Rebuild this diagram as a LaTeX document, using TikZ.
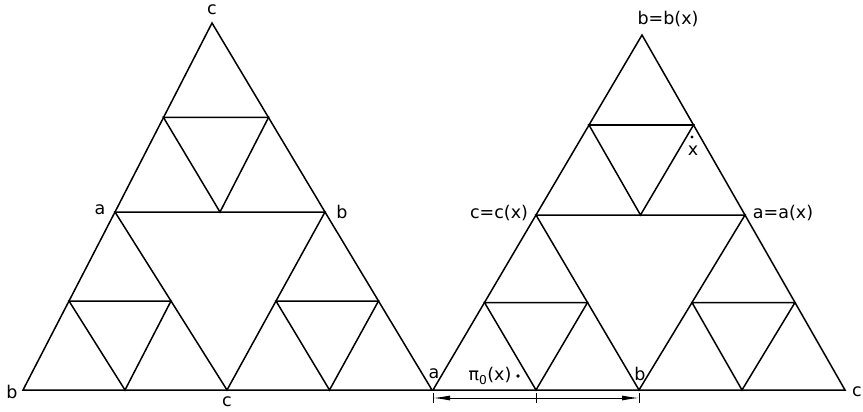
\documentclass[tikz,border=0pt]{standalone}
\usepackage{fontspec}
\setmainfont{DejaVu Sans}
\usetikzlibrary{arrows.meta,calc}
\begin{document}
\begin{tikzpicture}[x=1pt,y=-1pt,
  edge/.style={line width=1.5pt, line join=miter},
  dimline/.style={line width=1pt},
  lbl/.style={font=\fontsize{17.5}{17.5}\selectfont, inner sep=0pt}]
\useasboundingbox (0,0) rectangle (863,412);
\newcommand\subtri[3]{\draw[edge] ($(#1)!0.5!(#2)$) -- ($(#2)!0.5!(#3)$) -- ($(#3)!0.5!(#1)$) -- cycle;}
% ---------- left triangle
\coordinate (LB) at (23,390);
\coordinate (LT) at (212,23);
\coordinate (LR) at (432,390);
\coordinate (La) at (115,212);
\coordinate (Lb) at (325,212);
\coordinate (Lc) at (227,390);
\draw[edge] (LB) -- (La) -- (LT) -- (Lb) -- (LR) -- (Lc) -- cycle;
\draw[edge] (La) -- (Lb) -- (Lc) -- cycle;
\subtri{LT}{La}{Lb}
\subtri{LB}{La}{Lc}
\subtri{Lc}{Lb}{LR}
% ---------- right triangle
\coordinate (RL) at (433,390);
\coordinate (RT) at (642,35);
\coordinate (RR) at (845,390);
\coordinate (Rc) at (536,215);
\coordinate (Ra) at (745,215);
\coordinate (Rb) at (639,390);
\draw[edge] (RL) -- (Rc) -- (RT) -- (Ra) -- (RR) -- (Rb) -- cycle;
\draw[edge] (Rc) -- (Ra) -- (Rb) -- cycle;
\subtri{RT}{Rc}{Ra}
\subtri{RL}{Rc}{Rb}
\subtri{Rb}{Ra}{RR}
% ---------- dimension arrows
\coordinate (Q0) at (433,398);
\coordinate (Q1) at (536,398);
\coordinate (Q2) at (639,398);
\foreach \q in {Q0,Q1,Q2} {\draw[dimline] ($(\q)+(0,-5)$) -- ($(\q)+(0,5)$);}
\draw[dimline,-{Latex[length=17pt,width=5pt]}] (Q1) -- (Q0);
\draw[dimline,-{Latex[length=17pt,width=5pt]}] (Q1) -- (Q2);
% ---------- labels left
\node[lbl] (lc1) at (212,10) {c};
\node[lbl] (la1) at (100,210) {a};
\node[lbl] (lb1) at (342,212) {b};
\node[lbl] (lb2) at (12,392) {b};
\node[lbl] (lc2) at (227,402) {c};
% ---------- labels right
\node[lbl] (rb1) at (668,19) {b=b(x)};
\node[lbl] (rc1) at (499,213) {c=c(x)};
\node[lbl] (ra1) at (783,213) {a=a(x)};
\node[lbl] (rx) at (693,151) {x};
\fill (692,137) circle (1.6pt);
\node[lbl] (ra2) at (434,374) {a};
\node[lbl] (rb2) at (640,374) {b};
\node[lbl] (rpi) at (490,376) {π\textsubscript{0}(x)};
\fill (518,376) circle (1.8pt);
\node[lbl] (rc2) at (857,392) {c};
\end{tikzpicture}
\end{document}
